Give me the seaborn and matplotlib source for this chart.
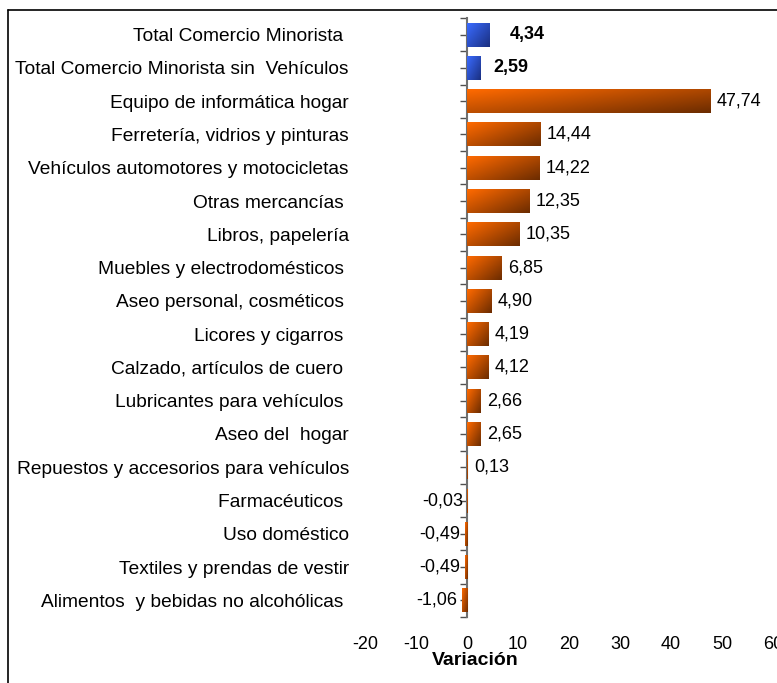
import numpy as np
import pandas as pd
import matplotlib
matplotlib.use("Agg")
import matplotlib.pyplot as plt
from matplotlib.colors import LinearSegmentedColormap
from matplotlib.lines import Line2D
import seaborn as sns

# Data
categories = [
    "Total Comercio Minorista ",
    "Total Comercio Minorista sin  Vehículos",
    "Equipo de informática hogar",
    "Ferretería, vidrios y pinturas",
    "Vehículos automotores y motocicletas",
    "Otras mercancías ",
    "Libros, papelería",
    "Muebles y electrodomésticos ",
    "Aseo personal, cosméticos ",
    "Licores y cigarros ",
    "Calzado, artículos de cuero ",
    "Lubricantes para vehículos ",
    "Aseo del  hogar",
    "Repuestos y accesorios para vehículos",
    "Farmacéuticos ",
    "Uso doméstico",
    "Textiles y prendas de vestir",
    "Alimentos  y bebidas no alcohólicas ",
]
values = [4.34, 2.59, 47.74, 14.44, 14.22, 12.35, 10.35, 6.85, 4.90, 4.19,
          4.12, 2.66, 2.65, 0.13, -0.03, -0.49, -0.49, -1.06]
groups = ["total", "total"] + ["sector"] * 16
x_ticks = [-20, -10, 0, 10, 20, 30, 40, 50, 60]

df = pd.DataFrame({"categoria": categories, "variacion": values, "grupo": groups})

sns.set_theme(style="white")
plt.rcParams["font.family"] = ["Liberation Sans", "DejaVu Sans"]
plt.rcParams["text.color"] = "black"
plt.rcParams["xtick.color"] = "black"
plt.rcParams["ytick.color"] = "black"
plt.rcParams["axes.labelcolor"] = "black"

FS = 13

fig = plt.figure(figsize=(7.77, 6.83), dpi=100)
ax = fig.add_axes([365 / 777, 1 - 617 / 683, 408 / 777, 599 / 683])

sns.barplot(data=df, x="variacion", y="categoria", hue="grupo", dodge=False,
            palette={"total": "#3366ff", "sector": "#ff6600"}, width=0.72,
            legend=False, ax=ax, orient="h")

# diagonal gradient fill inside each bar
cmaps = {
    "total": LinearSegmentedColormap.from_list("blu", ["#3a6bff", "#1a2f80"]),
    "sector": LinearSegmentedColormap.from_list("org", ["#ff6a00", "#6c2c00"]),
}
uu, vv = np.meshgrid(np.linspace(0, 1, 64), np.linspace(0, 1, 32))
grad = 0.55 * uu + 0.45 * vv
for patch, grp in zip(ax.patches, groups):
    x0, y0 = patch.get_x(), patch.get_y()
    w, h = patch.get_width(), patch.get_height()
    if abs(w) < 1e-9:
        continue
    xl, xr = min(x0, x0 + w), max(x0, x0 + w)
    yt, yb = min(y0, y0 + h), max(y0, y0 + h)
    im = ax.imshow(grad, cmap=cmaps[grp], aspect="auto",
                   extent=(xl, xr, yb, yt), origin="upper", zorder=7,
                   interpolation="bilinear")
    im.set_clip_path(patch)
    patch.set_facecolor("none")
    patch.set_edgecolor("none")
ax.set_xlim(-20, 60)
ax.set_ylim(len(categories) - 0.5, -0.5)

# value labels
for i, (v, grp) in enumerate(zip(values, groups)):
    txt = f"{v:.2f}".replace(".", ",")
    if grp == "total":
        ax.text(v + 4 if i == 0 else v + 2.5, i, txt, va="center", ha="left",
                fontsize=FS, fontweight="bold", zorder=8)
    elif v >= 0:
        ax.text(v + 1.2, i, txt, va="center", ha="left", fontsize=FS, zorder=8)
    else:
        ax.text(v - 0.8, i, txt, va="center", ha="right", fontsize=FS, zorder=8)

# axis styling: category axis sitting at x = 0
for s in ["top", "right", "bottom"]:
    ax.spines[s].set_visible(False)
ax.spines["left"].set_position(("data", 0))
ax.spines["left"].set_color("#707070")
ax.spines["left"].set_linewidth(1.5)
ax.spines["left"].set_zorder(6)
ax.set_yticks(range(len(categories)))
ax.set_yticklabels(categories, fontsize=13.8)
ax.set_yticks(np.arange(-0.5, len(categories), 1), minor=True)
ax.tick_params(axis="y", which="both", direction="out", length=5,
               width=1, color="#505050", left=True)
ax.tick_params(axis="y", which="major", pad=80)

ax.set_xticks(x_ticks)
ax.set_xticklabels([str(t) for t in x_ticks], fontsize=FS)
ax.tick_params(axis="x", length=0, pad=14)
ax.set_ylabel("")
ax.set_xlabel("Variación", fontsize=14, fontweight="bold")
ax.xaxis.set_label_coords((475.5 - 365) / 408, -0.058)
ax.grid(False)

# outer frame (left and top lines only)
fig.add_artist(Line2D([8 / 777, 8 / 777], [0, 1 - 10 / 683], color="black", lw=1.2))
fig.add_artist(Line2D([8 / 777, 1], [1 - 10 / 683, 1 - 10 / 683], color="black", lw=1.2))

fig.savefig("out.png", dpi=100)
